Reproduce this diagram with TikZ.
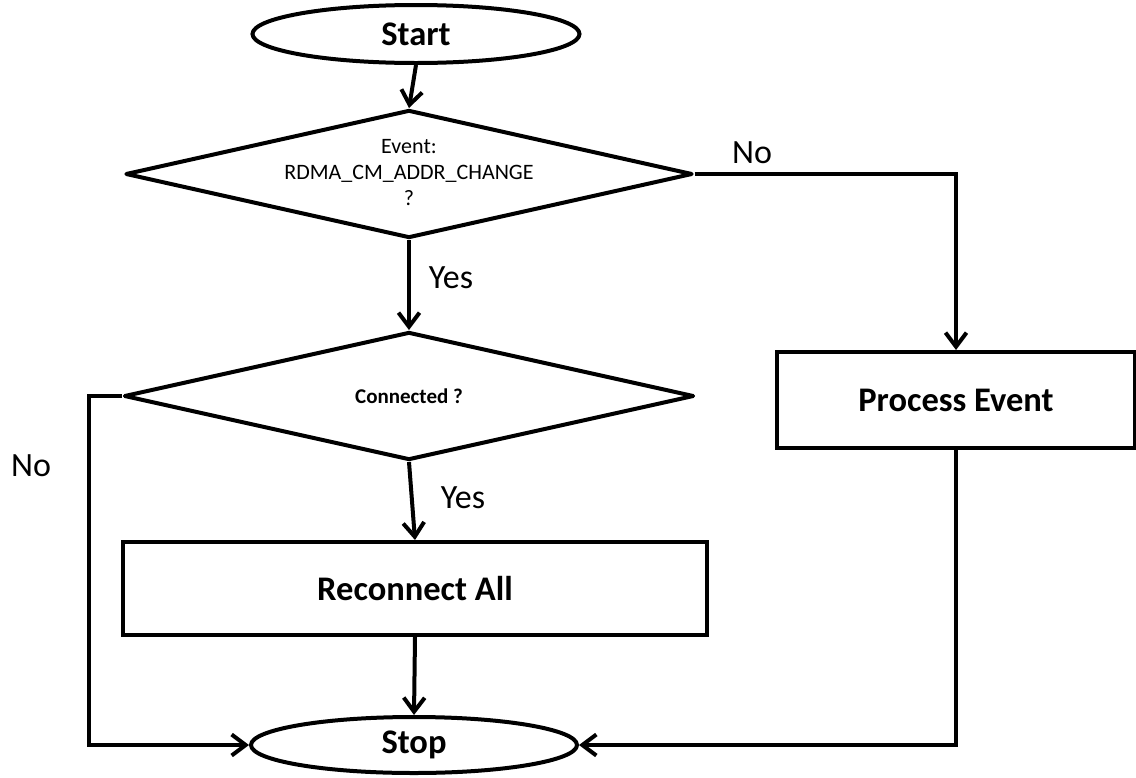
\documentclass[tikz,border=0pt]{standalone}
\usepackage{fontspec}
\setmainfont{Carlito}
\usetikzlibrary{shapes.geometric,arrows.meta}

\tikzset{
  base/.style={draw=black, line width=4pt, fill=white, inner sep=0pt, align=center},
  terminal/.style={base, ellipse, font=\fontsize{34.5}{40}\selectfont\bfseries},
  decision/.style={base, diamond, line join=round},
  process/.style={base, rectangle, font=\fontsize{34.5}{40}\selectfont\bfseries},
  dtext/.style={inner sep=0pt, align=center},
  flow/.style={line width=4pt, -{Straight Barb[length=14pt,width=21pt]}},
  edgelabel/.style={font=\fontsize{34}{40}\selectfont, inner sep=0pt},
}

\begin{document}
\begin{tikzpicture}[x=1pt, y=-1pt]
  \useasboundingbox (0,0) rectangle (1136,777);

  % terminals
  \node[terminal, minimum width=327pt, minimum height=58pt] (start) at (416,34) {Start};
  \node[terminal, minimum width=326pt, minimum height=56pt] (stop) at (414,745) {Stop};

  % decisions: the outline, then its question on top
  \node[decision, minimum width=567pt, minimum height=128pt] (evt) at (409,174) {};
  \node[dtext, font=\fontsize{22}{26}\selectfont] (evtq) at ([yshift=1pt]evt.center)
        {Event:\\RDMA\_CM\_ADDR\_CHANGE\\?};
  \node[decision, minimum width=570pt, minimum height=128pt] (conn) at (409,396) {};
  \node[dtext, font=\fontsize{21}{24}\selectfont\bfseries] (connq) at (conn.center)
        {Connected ?};

  % processes
  \node[process, minimum width=584pt, minimum height=93pt] (recon) at (415,588.5) {Reconnect All};
  \node[process, minimum width=358pt, minimum height=96pt] (proc) at (956,400) {Process Event};

  % routing point for the left branch
  \coordinate (lx) at (89,0);

  % connectors
  \draw[flow] (start.south) -- (evt.north);
  \draw[flow] (evt.south) -- (conn.north);
  \draw[flow] (conn.south) -- (recon.north);
  \draw[flow] (recon.south) -- (stop.north);
  \draw[flow] (evt.east) -| (proc.north);
  \draw[flow] (proc.south) |- (stop.east);
  \draw[flow] (conn.west) -- (conn.west -| lx) |- (stop.west);

  % branch labels
  \node[edgelabel] (no1) at (752,153) {No};
  \node[edgelabel] (yes1) at (451,278) {Yes};
  \node[edgelabel] (yes2) at (463,498) {Yes};
  \node[edgelabel] (no2) at (31,466) {No};
\end{tikzpicture}
\end{document}
